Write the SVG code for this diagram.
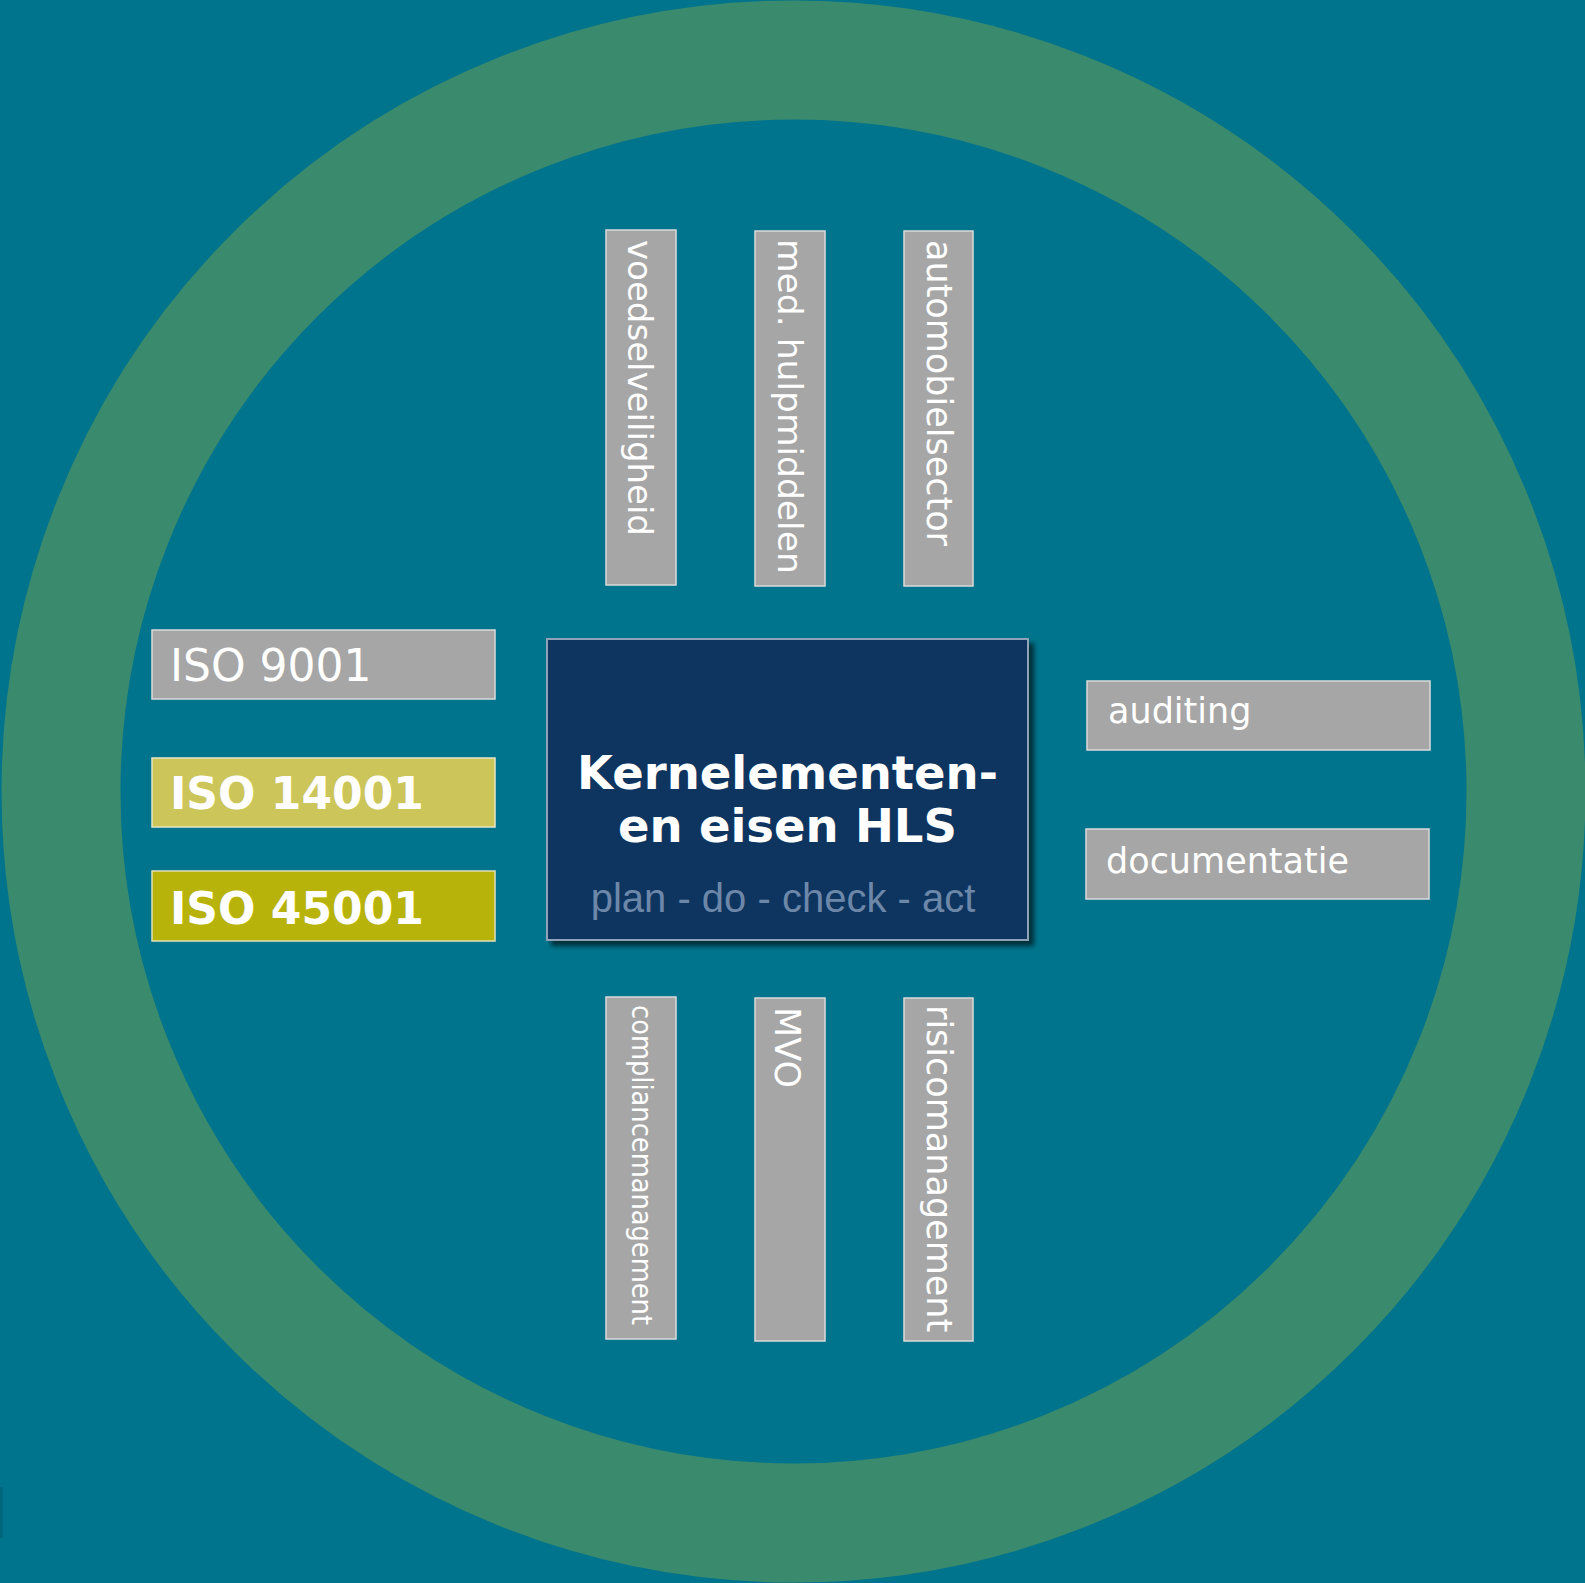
<svg xmlns="http://www.w3.org/2000/svg" width="1585" height="1583" viewBox="0 0 1585 1583">
  <style>
    .bg { fill: #00748C; }
    .ring { fill: none; stroke: #3A8A6E; stroke-width: 119; }
    .gray { fill: #A6A6A6; stroke: #DADADA; stroke-width: 1.5; }
    .lime1 { fill: #CCC55A; stroke: #E6E6C8; stroke-width: 1.5; }
    .lime2 { fill: #B8B30A; stroke: #E0E0B8; stroke-width: 1.5; }
    .lbl { font-family: "DejaVu Sans", Verdana, sans-serif; fill: #FFFFFF; }
    .lblb { font-family: "DejaVu Sans", Verdana, sans-serif; font-weight: bold; fill: #FFFFFF; }
    .core { fill: #10365F; stroke: #8FA3B8; stroke-width: 2; }
    .title { font-family: "DejaVu Sans", Verdana, sans-serif; font-weight: bold; fill: #FFFFFF; font-size: 46.5px; text-anchor: middle; }
    .pdca { font-family: "Liberation Sans", Arial, sans-serif; fill: #6D87A9; font-size: 40px; text-anchor: middle; }
  </style>
  <defs>
    <filter id="shadow" x="-10%" y="-10%" width="125%" height="125%">
      <feDropShadow dx="5" dy="5" stdDeviation="2.5" flood-color="#000000" flood-opacity="0.6"/>
    </filter>
  </defs>

  <rect class="bg" x="0" y="0" width="1585" height="1583"/>
  <rect x="0" y="1487" width="3" height="51" fill="#00677D"/>
  <ellipse class="ring" cx="793.5" cy="791.5" rx="732.5" ry="731.5"/>

  <g id="connectors"/>

  <g id="core">
    <rect class="core" x="547" y="639" width="481" height="301" filter="url(#shadow)"/>
    <text class="title" x="787.5" y="789">Kernelementen-</text>
    <text class="title" x="787.5" y="842">en eisen HLS</text>
    <text class="pdca" x="783" y="912">plan - do - check - act</text>
  </g>

  <g id="iso9001">
    <rect class="gray" x="152" y="630" width="343" height="69"/>
    <text class="lbl" x="170" y="681" font-size="44">ISO 9001</text>
  </g>
  <g id="iso14001">
    <rect class="lime1" x="152" y="758" width="343" height="69"/>
    <text class="lblb" x="170" y="809" font-size="44">ISO 14001</text>
  </g>
  <g id="iso45001">
    <rect class="lime2" x="152" y="871" width="343" height="70"/>
    <text class="lblb" x="170" y="924" font-size="44">ISO 45001</text>
  </g>

  <g id="auditing">
    <rect class="gray" x="1087" y="681" width="343" height="69"/>
    <text class="lbl" x="1108" y="723" font-size="35">auditing</text>
  </g>
  <g id="documentatie">
    <rect class="gray" x="1086" y="829" width="343" height="70"/>
    <text class="lbl" x="1106" y="873" font-size="35">documentatie</text>
  </g>

  <g id="voedselveiligheid">
    <rect class="gray" x="606" y="230" width="70" height="355"/>
    <text class="lbl" transform="translate(628,240) rotate(90)" font-size="34">voedselveiligheid</text>
  </g>
  <g id="med-hulpmiddelen">
    <rect class="gray" x="755" y="231" width="70" height="355"/>
    <text class="lbl" transform="translate(778,239) rotate(90)" font-size="34.5">med. hulpmiddelen</text>
  </g>
  <g id="automobielsector">
    <rect class="gray" x="904" y="231" width="69" height="355"/>
    <text class="lbl" transform="translate(927,240) rotate(90)" font-size="35">automobielsector</text>
  </g>

  <g id="compliancemanagement">
    <rect class="gray" x="606" y="997" width="70" height="342"/>
    <text class="lbl" transform="translate(632,1005) rotate(90)" font-size="29" textLength="320" lengthAdjust="spacingAndGlyphs">compliancemanagement</text>
  </g>
  <g id="mvo">
    <rect class="gray" x="755" y="998" width="70" height="343"/>
    <text class="lbl" transform="translate(775,1007) rotate(90)" font-size="35">MVO</text>
  </g>
  <g id="risicomanagement">
    <rect class="gray" x="904" y="998" width="69" height="343"/>
    <text class="lbl" transform="translate(927,1005) rotate(90)" font-size="35">risicomanagement</text>
  </g>
</svg>
